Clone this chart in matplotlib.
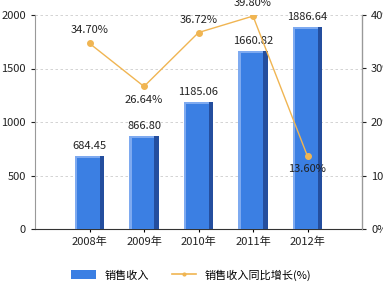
import matplotlib
matplotlib.use("Agg")
import matplotlib.pyplot as plt
from matplotlib.patches import Rectangle
from matplotlib.lines import Line2D

plt.rcParams['font.family'] = ['Noto Sans CJK SC', 'DejaVu Sans']

years = ["2008年", "2009年", "2010年", "2011年", "2012年"]
revenue = [684.45, 866.80, 1185.06, 1660.82, 1886.64]
growth = [34.70, 26.64, 36.72, 39.80, 13.60]
growth_label_below = [False, True, False, False, True]

bar_main = "#3B7FE3"
bar_side = "#244E9E"
bar_light = "#7EAAF0"
line_color = "#F0B552"

fig = plt.figure(figsize=(3.83, 2.83), dpi=100)
ax = fig.add_axes([35/383, 1 - 229/283, 327/383, 214/283])
ax2 = ax.twinx()

x = list(range(1, len(years) + 1))
w = 0.55
side = 0.09
for xi, v in zip(x, revenue):
    left = xi - w/2
    ax.add_patch(Rectangle((left, 0), w - side, v, facecolor=bar_main, edgecolor='none', zorder=3))
    ax.add_patch(Rectangle((xi + w/2 - side, 0), side, v, facecolor=bar_side, edgecolor='none', zorder=3))
    ax.add_patch(Rectangle((left, 0), 0.05, v, facecolor=bar_light, edgecolor='none', zorder=3.5))
    ax.add_patch(Rectangle((left, v - 18), w - side, 18, facecolor=bar_light, edgecolor='none', zorder=3.5))
    ax.text(xi, v + 45, f"{v:.2f}", ha='center', va='bottom', fontsize=8, color='#222222', zorder=5)

ax.set_xlim(0, 6)
ax.set_ylim(0, 2000)
ax.set_yticks([0, 500, 1000, 1500, 2000])
ax.set_xticks(x)
ax.set_xticklabels(years, fontsize=8, color='#222222')
ax.tick_params(axis='y', labelsize=8, colors='#222222', length=3, width=0.8)
ax.tick_params(axis='x', length=4, width=0.8, direction='inout')
ax.grid(axis='y', color='#cccccc', linestyle=(0, (3, 3)), linewidth=0.6, zorder=0)
ax.set_axisbelow(True)
ax.spines['top'].set_visible(False)
ax2.spines['top'].set_visible(False)
ax.spines['left'].set_color('#999999')
ax.spines['bottom'].set_color('#333333')
ax2.spines['right'].set_color('#999999')
ax2.spines['left'].set_visible(False)
ax2.spines['bottom'].set_visible(False)

ax2.plot(x, growth, color=line_color, linewidth=1.0, marker='o', markersize=4, zorder=6)
ax2.set_ylim(0, 40)
ax2.set_yticks([0, 10, 20, 30, 40])
ax2.set_yticklabels([f"{t}%" for t in [0, 10, 20, 30, 40]])
ax2.tick_params(axis='y', labelsize=8, colors='#222222', length=3, width=0.8)
for xi, g, below in zip(x, growth, growth_label_below):
    if below:
        ax2.text(xi, g - 1.5, f"{g:.2f}%", ha='center', va='top', fontsize=8, color='#222222', zorder=7)
    else:
        ax2.text(xi, g + 1.5, f"{g:.2f}%", ha='center', va='bottom', fontsize=8, color='#222222', zorder=7)

handles = [Rectangle((0, 0), 1, 1, facecolor=bar_main, edgecolor='none'),
           Line2D([0], [0], color=line_color, linewidth=1.2, marker='o', markersize=2)]
fig.legend(handles, ["销售收入", "销售收入同比增长(%)"], loc='center', bbox_to_anchor=(0.5, 1 - 275/283),
           ncol=2, frameon=False, fontsize=8, handlelength=2.2, handleheight=0.9, columnspacing=2.0)

fig.savefig("out.png", dpi=100)
